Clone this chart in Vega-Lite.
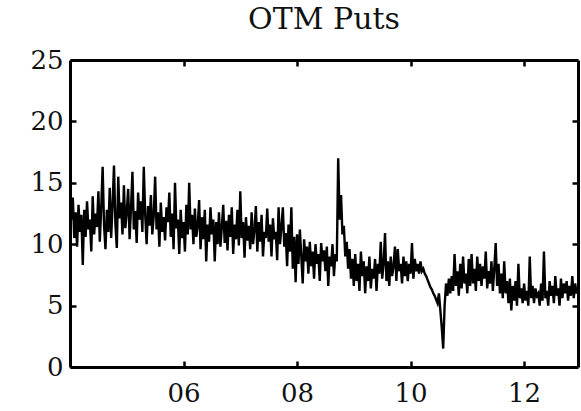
{
"$schema": "https://vega.github.io/schema/vega-lite/v6.json",
"width": 508, "height": 307,
"autosize": "none",
"padding": {"left": 70, "top": 60, "right": 3, "bottom": 44},
"title": {"text": "OTM Puts", "font": "DejaVu Serif", "fontSize": 30, "fontWeight": "normal", "color": "#111", "anchor": "middle", "offset": 12},
"config": {
  "view": {"stroke": null},
  "axis": {"domain": true, "domainColor": "black", "domainWidth": 3, "grid": false, "tickColor": "black", "tickWidth": 2.5, "tickSize": -6, "labelFont": "DejaVu Serif", "labelFontSize": 26, "labelColor": "#111", "title": null}
},
"data": {"values": [
{"t":2004.000,"v":15.2},{"t":2004.025,"v":12.0},{"t":2004.050,"v":13.8},{"t":2004.075,"v":10.5},{"t":2004.100,"v":12.6},{"t":2004.125,"v":9.8},{"t":2004.150,"v":13.2},{"t":2004.175,"v":11.0},{"t":2004.200,"v":12.4},{"t":2004.225,"v":8.3},
{"t":2004.250,"v":12.8},{"t":2004.275,"v":10.6},{"t":2004.300,"v":13.5},{"t":2004.325,"v":11.2},{"t":2004.350,"v":12.0},{"t":2004.375,"v":9.4},{"t":2004.400,"v":13.9},{"t":2004.425,"v":10.8},{"t":2004.450,"v":12.5},{"t":2004.475,"v":11.4},
{"t":2004.500,"v":14.3},{"t":2004.525,"v":10.2},{"t":2004.550,"v":13.0},{"t":2004.575,"v":16.3},{"t":2004.600,"v":11.5},{"t":2004.625,"v":9.6},{"t":2004.650,"v":12.8},{"t":2004.675,"v":11.0},{"t":2004.700,"v":14.6},{"t":2004.725,"v":10.5},
{"t":2004.750,"v":13.2},{"t":2004.775,"v":16.4},{"t":2004.800,"v":11.6},{"t":2004.825,"v":9.7},{"t":2004.850,"v":15.5},{"t":2004.875,"v":12.1},{"t":2004.900,"v":13.4},{"t":2004.925,"v":10.8},{"t":2004.950,"v":14.8},{"t":2004.975,"v":11.3},
{"t":2005.000,"v":12.6},{"t":2005.025,"v":14.5},{"t":2005.050,"v":10.4},{"t":2005.075,"v":13.0},{"t":2005.100,"v":15.9},{"t":2005.125,"v":11.2},{"t":2005.150,"v":12.7},{"t":2005.175,"v":10.1},{"t":2005.200,"v":14.2},{"t":2005.225,"v":12.0},
{"t":2005.250,"v":13.5},{"t":2005.275,"v":11.0},{"t":2005.300,"v":16.3},{"t":2005.325,"v":12.4},{"t":2005.350,"v":10.0},{"t":2005.375,"v":13.1},{"t":2005.400,"v":11.5},{"t":2005.425,"v":14.0},{"t":2005.450,"v":10.8},{"t":2005.475,"v":12.3},
{"t":2005.500,"v":15.5},{"t":2005.525,"v":11.2},{"t":2005.550,"v":12.6},{"t":2005.575,"v":9.8},{"t":2005.600,"v":13.4},{"t":2005.625,"v":11.0},{"t":2005.650,"v":12.2},{"t":2005.675,"v":10.3},{"t":2005.700,"v":13.0},{"t":2005.725,"v":11.8},
{"t":2005.750,"v":14.2},{"t":2005.775,"v":10.6},{"t":2005.800,"v":12.5},{"t":2005.825,"v":9.6},{"t":2005.850,"v":15.0},{"t":2005.875,"v":11.3},{"t":2005.900,"v":12.0},{"t":2005.925,"v":9.2},{"t":2005.950,"v":12.8},{"t":2005.975,"v":10.5},
{"t":2006.000,"v":11.8},{"t":2006.025,"v":9.4},{"t":2006.050,"v":13.2},{"t":2006.075,"v":10.8},{"t":2006.100,"v":15.0},{"t":2006.125,"v":11.2},{"t":2006.150,"v":12.4},{"t":2006.175,"v":10.0},{"t":2006.200,"v":12.9},{"t":2006.225,"v":10.6},
{"t":2006.250,"v":11.5},{"t":2006.275,"v":13.6},{"t":2006.300,"v":9.6},{"t":2006.325,"v":12.2},{"t":2006.350,"v":10.4},{"t":2006.375,"v":12.8},{"t":2006.400,"v":8.6},{"t":2006.425,"v":11.6},{"t":2006.450,"v":10.2},{"t":2006.475,"v":13.0},
{"t":2006.500,"v":10.8},{"t":2006.525,"v":12.0},{"t":2006.550,"v":8.6},{"t":2006.575,"v":11.8},{"t":2006.600,"v":10.0},{"t":2006.625,"v":12.6},{"t":2006.650,"v":9.8},{"t":2006.675,"v":11.4},{"t":2006.700,"v":13.2},{"t":2006.725,"v":10.1},
{"t":2006.750,"v":11.9},{"t":2006.775,"v":9.5},{"t":2006.800,"v":12.4},{"t":2006.825,"v":10.6},{"t":2006.850,"v":13.0},{"t":2006.875,"v":9.2},{"t":2006.900,"v":11.6},{"t":2006.925,"v":10.4},{"t":2006.950,"v":12.8},{"t":2006.975,"v":9.9},
{"t":2007.000,"v":14.3},{"t":2007.025,"v":10.5},{"t":2007.050,"v":11.8},{"t":2007.075,"v":8.9},{"t":2007.100,"v":12.2},{"t":2007.125,"v":10.3},{"t":2007.150,"v":11.5},{"t":2007.175,"v":9.6},{"t":2007.200,"v":12.6},{"t":2007.225,"v":10.0},
{"t":2007.250,"v":11.2},{"t":2007.275,"v":13.1},{"t":2007.300,"v":9.4},{"t":2007.325,"v":11.8},{"t":2007.350,"v":10.2},{"t":2007.375,"v":12.4},{"t":2007.400,"v":9.0},{"t":2007.425,"v":11.0},{"t":2007.450,"v":10.5},{"t":2007.475,"v":12.9},
{"t":2007.500,"v":10.2},{"t":2007.525,"v":11.6},{"t":2007.550,"v":9.0},{"t":2007.575,"v":12.1},{"t":2007.600,"v":10.4},{"t":2007.625,"v":11.0},{"t":2007.650,"v":8.7},{"t":2007.675,"v":13.0},{"t":2007.700,"v":10.0},{"t":2007.725,"v":11.4},
{"t":2007.750,"v":13.0},{"t":2007.775,"v":9.8},{"t":2007.800,"v":10.9},{"t":2007.825,"v":8.2},{"t":2007.850,"v":11.6},{"t":2007.875,"v":9.4},{"t":2007.900,"v":13.0},{"t":2007.925,"v":8.0},{"t":2007.950,"v":10.6},{"t":2007.975,"v":6.9},
{"t":2008.000,"v":10.8},{"t":2008.025,"v":8.4},{"t":2008.050,"v":11.2},{"t":2008.075,"v":9.0},{"t":2008.100,"v":6.8},{"t":2008.125,"v":10.4},{"t":2008.150,"v":8.6},{"t":2008.175,"v":9.8},{"t":2008.200,"v":7.6},{"t":2008.225,"v":10.2},
{"t":2008.250,"v":8.2},{"t":2008.275,"v":9.4},{"t":2008.300,"v":7.2},{"t":2008.325,"v":10.0},{"t":2008.350,"v":8.4},{"t":2008.375,"v":9.2},{"t":2008.400,"v":7.0},{"t":2008.425,"v":10.1},{"t":2008.450,"v":8.6},{"t":2008.475,"v":9.5},
{"t":2008.500,"v":7.8},{"t":2008.525,"v":9.8},{"t":2008.550,"v":6.6},{"t":2008.575,"v":9.0},{"t":2008.600,"v":8.2},{"t":2008.625,"v":10.0},{"t":2008.650,"v":7.4},{"t":2008.675,"v":9.2},{"t":2008.700,"v":8.6},{"t":2008.725,"v":17.0},
{"t":2008.750,"v":12.0},{"t":2008.775,"v":14.0},{"t":2008.800,"v":10.8},{"t":2008.825,"v":11.5},{"t":2008.850,"v":9.0},{"t":2008.875,"v":10.2},{"t":2008.900,"v":8.0},{"t":2008.925,"v":9.6},{"t":2008.950,"v":7.2},{"t":2008.975,"v":8.8},
{"t":2009.000,"v":6.6},{"t":2009.025,"v":9.2},{"t":2009.050,"v":7.0},{"t":2009.075,"v":8.4},{"t":2009.100,"v":6.2},{"t":2009.125,"v":9.4},{"t":2009.150,"v":7.4},{"t":2009.175,"v":8.6},{"t":2009.200,"v":6.0},{"t":2009.225,"v":8.2},
{"t":2009.250,"v":7.0},{"t":2009.275,"v":9.0},{"t":2009.300,"v":6.4},{"t":2009.325,"v":8.0},{"t":2009.350,"v":7.2},{"t":2009.375,"v":8.8},{"t":2009.400,"v":6.2},{"t":2009.425,"v":8.4},{"t":2009.450,"v":7.6},{"t":2009.475,"v":10.2},
{"t":2009.500,"v":7.2},{"t":2009.525,"v":8.4},{"t":2009.550,"v":10.9},{"t":2009.575,"v":7.0},{"t":2009.600,"v":8.6},{"t":2009.625,"v":6.6},{"t":2009.650,"v":9.0},{"t":2009.675,"v":7.4},{"t":2009.700,"v":8.2},{"t":2009.725,"v":9.8},
{"t":2009.750,"v":7.0},{"t":2009.775,"v":9.6},{"t":2009.800,"v":7.8},{"t":2009.825,"v":8.4},{"t":2009.850,"v":6.8},{"t":2009.875,"v":9.0},{"t":2009.900,"v":7.4},{"t":2009.925,"v":8.6},{"t":2009.950,"v":7.0},{"t":2009.975,"v":8.4},
{"t":2010.000,"v":7.6},{"t":2010.025,"v":10.1},{"t":2010.050,"v":7.2},{"t":2010.075,"v":8.8},{"t":2010.100,"v":7.8},{"t":2010.125,"v":8.4},{"t":2010.150,"v":7.6},{"t":2010.175,"v":8.6},{"t":2010.200,"v":7.8},{"t":2010.225,"v":8.0},
{"t":2010.250,"v":7.6},{"t":2010.275,"v":7.4},{"t":2010.300,"v":7.1},{"t":2010.325,"v":6.8},{"t":2010.350,"v":6.5},{"t":2010.375,"v":6.3},{"t":2010.400,"v":6.0},{"t":2010.425,"v":5.8},{"t":2010.450,"v":5.5},{"t":2010.475,"v":5.2},
{"t":2010.500,"v":6.0},{"t":2010.525,"v":4.6},{"t":2010.550,"v":3.2},{"t":2010.575,"v":1.5},{"t":2010.600,"v":5.0},{"t":2010.625,"v":6.8},{"t":2010.650,"v":5.8},{"t":2010.675,"v":7.2},{"t":2010.700,"v":6.0},{"t":2010.725,"v":7.4},
{"t":2010.750,"v":6.2},{"t":2010.775,"v":9.2},{"t":2010.800,"v":6.6},{"t":2010.825,"v":7.8},{"t":2010.850,"v":5.8},{"t":2010.875,"v":8.4},{"t":2010.900,"v":6.4},{"t":2010.925,"v":9.0},{"t":2010.950,"v":6.8},{"t":2010.975,"v":7.6},
{"t":2011.000,"v":6.0},{"t":2011.025,"v":8.8},{"t":2011.050,"v":6.6},{"t":2011.075,"v":9.2},{"t":2011.100,"v":6.8},{"t":2011.125,"v":8.0},{"t":2011.150,"v":6.2},{"t":2011.175,"v":9.0},{"t":2011.200,"v":7.0},{"t":2011.225,"v":8.4},
{"t":2011.250,"v":6.6},{"t":2011.275,"v":8.2},{"t":2011.300,"v":7.2},{"t":2011.325,"v":9.4},{"t":2011.350,"v":6.4},{"t":2011.375,"v":7.8},{"t":2011.400,"v":6.8},{"t":2011.425,"v":8.6},{"t":2011.450,"v":6.2},{"t":2011.475,"v":8.0},
{"t":2011.500,"v":10.1},{"t":2011.525,"v":6.6},{"t":2011.550,"v":8.4},{"t":2011.575,"v":6.0},{"t":2011.600,"v":7.6},{"t":2011.625,"v":5.6},{"t":2011.650,"v":8.6},{"t":2011.675,"v":6.0},{"t":2011.700,"v":7.0},{"t":2011.725,"v":5.2},
{"t":2011.750,"v":7.2},{"t":2011.775,"v":4.6},{"t":2011.800,"v":6.6},{"t":2011.825,"v":5.4},{"t":2011.850,"v":7.0},{"t":2011.875,"v":5.0},{"t":2011.900,"v":8.4},{"t":2011.925,"v":5.6},{"t":2011.950,"v":6.4},{"t":2011.975,"v":5.2},
{"t":2012.000,"v":6.8},{"t":2012.025,"v":5.4},{"t":2012.050,"v":6.2},{"t":2012.075,"v":5.0},{"t":2012.100,"v":9.0},{"t":2012.125,"v":5.6},{"t":2012.150,"v":6.6},{"t":2012.175,"v":5.2},{"t":2012.200,"v":6.4},{"t":2012.225,"v":5.8},
{"t":2012.250,"v":6.0},{"t":2012.275,"v":5.0},{"t":2012.300,"v":6.8},{"t":2012.325,"v":5.4},{"t":2012.350,"v":9.4},{"t":2012.375,"v":5.6},{"t":2012.400,"v":6.2},{"t":2012.425,"v":5.0},{"t":2012.450,"v":7.0},{"t":2012.475,"v":5.8},
{"t":2012.500,"v":6.6},{"t":2012.525,"v":5.2},{"t":2012.550,"v":7.4},{"t":2012.575,"v":5.8},{"t":2012.600,"v":6.4},{"t":2012.625,"v":5.0},{"t":2012.650,"v":7.2},{"t":2012.675,"v":5.6},{"t":2012.700,"v":6.8},{"t":2012.725,"v":6.0},
{"t":2012.750,"v":7.0},{"t":2012.775,"v":5.4},{"t":2012.800,"v":6.6},{"t":2012.825,"v":5.8},{"t":2012.850,"v":7.4},{"t":2012.875,"v":5.6},{"t":2012.900,"v":6.8},{"t":2012.925,"v":6.0},{"t":2012.950,"v":6.4}
]},
"layer": [
  {"mark": {"type": "line", "color": "black", "strokeWidth": 2.4, "clip": true},
   "encoding": {
     "x": {"field": "t", "type": "quantitative", "scale": {"domain": [2004, 2012.95], "nice": false, "zero": false},
           "axis": {"orient": "bottom", "values": [2006, 2008, 2010, 2012], "labelExpr": "slice(toString(datum.value), 2)", "labelPadding": 19}},
     "y": {"field": "v", "type": "quantitative", "scale": {"domain": [0, 25], "nice": false},
           "axis": {"orient": "left", "values": [0, 5, 10, 15, 20, 25], "labelPadding": 13}}
   }},
  {"mark": {"type": "line", "opacity": 0},
   "encoding": {
     "x": {"field": "t", "type": "quantitative", "axis": {"orient": "top", "values": [2006, 2008, 2010, 2012], "labels": false}},
     "y": {"field": "v", "type": "quantitative", "axis": {"orient": "right", "values": [5, 10, 15, 20], "labels": false}}
   }}
],
"resolve": {"axis": {"x": "independent", "y": "independent"}}
}
